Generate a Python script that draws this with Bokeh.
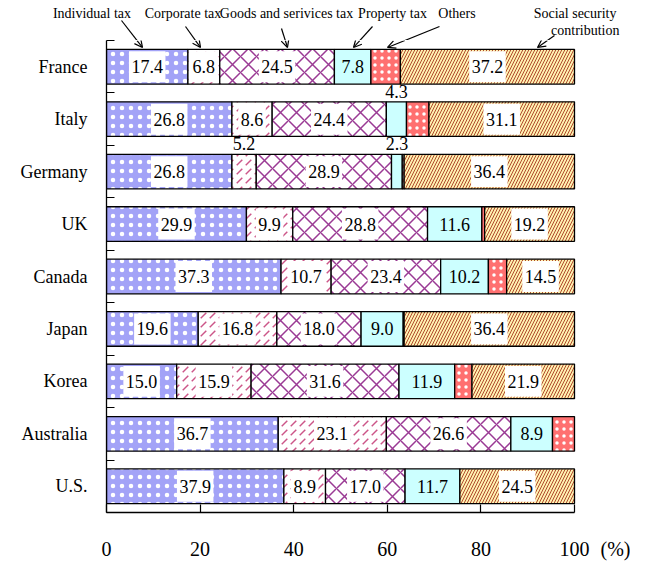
import numpy as np
from bokeh.plotting import figure
from bokeh.layouts import column
from bokeh.models import Range1d, FixedTicker, Arrow, OpenHead, ColumnDataSource, LinearAxis
from bokeh.core.properties import value
from bokeh.embed import file_html
from bokeh.resources import INLINE

# ---------------- data ----------------
countries = ["France", "Italy", "Germany", "UK", "Canada", "Japan", "Korea", "Australia", "U.S."]
individual = [17.4, 26.8, 26.8, 29.9, 37.3, 19.6, 15.0, 36.7, 37.9]
corporate = [6.8, 8.6, 5.2, 9.9, 10.7, 16.8, 15.9, 23.1, 8.9]
goods = [24.5, 24.4, 28.9, 28.8, 23.4, 18.0, 31.6, 26.6, 17.0]
property_tax = [7.8, 4.3, 2.3, 11.6, 10.2, 9.0, 11.9, 8.9, 11.7]
others = [6.3, 4.8, 0.4, 0.6, 3.9, 0.2, 3.7, 4.7, 0.0]
social = [37.2, 31.1, 36.4, 19.2, 14.5, 36.4, 21.9, 0.0, 24.5]
category_names = ["Individual tax", "Corporate tax", "Goods and serivices tax",
                  "Property tax", "Others", "Social security", "contribution"]
x_ticks = [0, 20, 40, 60, 80, 100]
unit_label = "(%)"

FONT = "Liberation Serif"
series = [individual, corporate, goods, property_tax, others, social]
styles = [
    dict(fill_color="#a3a3f7", hatch_pattern="dot", hatch_color="white", hatch_scale=9, hatch_weight=1),
    dict(fill_color="white", hatch_pattern="right_diagonal_dash", hatch_color="#cc5588", hatch_scale=9, hatch_weight=1.5),
    dict(fill_color="white", hatch_pattern="diagonal_cross", hatch_color="#9a3a94", hatch_scale=16, hatch_weight=1.5),
    dict(fill_color="#ccffff"),
    dict(fill_color="#ff7070", hatch_pattern="dot", hatch_color="white", hatch_scale=7, hatch_weight=1),
    dict(fill_color="#fff0b0", hatch_pattern="right_diagonal_line", hatch_color="#b04a2c", hatch_scale=6, hatch_weight=1.0),
]
boxed = [True, True, True, False, False, True]
labeled = [True, True, True, True, False, True]

n = len(countries)
ypos = np.array([n - 1 - i for i in range(n)], dtype=float)
vals = np.array(series, dtype=float)
right = np.cumsum(vals, axis=0)
left = right - vals
BAR_H = 0.66

# ---- geometry (page pixels) ----
OX, OY = 1, 2                   # observed page position of the layout origin
PX0, PXS = 107.0, 4.68          # x=0 at page px 107, 4.68 px per %
PY_FR, PYS = 68.5, 53.1         # France centre, px per row
BOUND = 42                      # page y of the boundary between strip and chart (= frame top)
TOP_H = BOUND - OY
W = 630


def dx(px):
    return (px - PX0) / PXS


def dy(py):
    return (n - 1) - (py - PY_FR) / PYS


# ---------------- call-out strip ----------------
top = figure(width=W, height=TOP_H, x_range=Range1d(OX, OX + W), y_range=Range1d(BOUND, OY),
             output_backend="svg", toolbar_location=None, x_axis_type=None, y_axis_type=None,
             min_border_left=0, min_border_right=0, min_border_top=0, min_border_bottom=0)
top.frame_align = False
top.xgrid.visible = False
top.ygrid.visible = False
top.outline_line_color = None

lab_x = [92.5, 183.5, 287, 393, 457.5, 617, 620]
lab_y = [15, 15, 15, 15, 15, 15, 32]
lab_align = ["center"] * 5 + ["right", "right"]
top.text(x=lab_x, y=lab_y, text=category_names, text_align=lab_align, text_baseline="middle",
         text_font=value(FONT), text_font_size=value("14px"), text_color="black")

arrows = [((122, 22), (143, 49)), ((186, 28), (201, 49)), ((282, 30), (288, 49)),
          ((373, 28), (354, 49)), ((440, 28), (388, 49)), ((555, 37), (538, 49))]
sx0, sy0, sx1, sy1 = [], [], [], []
mid = []
for (x0, y0), (x1, y1) in arrows:
    xb = x0 + (x1 - x0) * (BOUND - y0) / (y1 - y0)
    sx0.append(x0); sy0.append(y0); sx1.append(xb); sy1.append(BOUND)
    mid.append((xb, x1, y1))
top.segment(x0=sx0, y0=sy0, x1=sx1, y1=sy1, line_color="black", line_width=1.2)

# ---------------- main chart ----------------
FRAME_R = 628
XMAX = dx(FRAME_R)
BL = int(PX0 - OX)
BR = W - BL - int(FRAME_R - PX0)
BB = 44
p = figure(width=W, height=478 + BB, x_range=Range1d(0, XMAX), y_range=Range1d(-0.5, n - 0.5),
           output_backend="svg", toolbar_location=None, x_axis_type=None,
           min_border_left=BL, min_border_right=BR, min_border_top=0, min_border_bottom=BB)
p.frame_align = False
p.xgrid.visible = False
p.ygrid.visible = False
p.outline_line_color = None

for k in range(len(series)):
    m = vals[k] > 0
    src = ColumnDataSource(dict(y=ypos[m], left=left[k][m], right=right[k][m]))
    p.hbar(y="y", left="left", right="right", height=BAR_H, source=src,
           line_color="black", line_width=1.3, **styles[k])

bx, by, bw = [], [], []
tx, ty, tt = [], [], []
for k in range(len(series)):
    if not labeled[k]:
        continue
    for i in range(n):
        v = vals[k][i]
        if v <= 0:
            continue
        cx = (left[k][i] + right[k][i]) / 2
        txt = f"{v:.1f}"
        if v < 6:
            tx.append(cx); ty.append(ypos[i] + 0.53); tt.append(txt)
        else:
            tx.append(cx); ty.append(ypos[i]); tt.append(txt)
            if boxed[k]:
                wpx = 9.0 * (len(txt) - 1) + 4.5 + 5
                bx.append(cx); by.append(ypos[i]); bw.append(min(wpx / PXS, v - 0.5))

p.rect(x=bx, y=by, width=bw, height=BAR_H - 0.07, fill_color="white", line_color=None)
p.text(x=tx, y=ty, text=tt, text_font=value(FONT), text_font_size=value("18px"),
       text_align="center", text_baseline="middle", text_color="black")

for xb, x1, y1 in mid:
    p.add_layout(Arrow(x_start=dx(xb), y_start=dy(BOUND), x_end=dx(x1), y_end=dy(y1),
                       line_width=1.2, end=OpenHead(size=8, line_width=1.2)))

# x axis: line + inward ticks (ticks as minor ticks so that this axis has no labels)
ax_line = LinearAxis(ticker=FixedTicker(ticks=[], minor_ticks=x_ticks), bounds=(0, 100))
ax_line.minor_tick_in = 8
ax_line.minor_tick_out = 0
ax_line.minor_tick_line_color = "black"
ax_line.minor_tick_line_width = 1.2
ax_line.major_tick_line_color = None
ax_line.axis_line_width = 1.3
ax_line.major_label_standoff = 0
p.add_layout(ax_line, "below")

# x axis: tick labels and unit
lab_ticks = x_ticks + [dx(622)]
ax_lab = LinearAxis(ticker=FixedTicker(ticks=lab_ticks))
ax_lab.major_label_overrides = {lab_ticks[-1]: unit_label}
ax_lab.axis_line_color = None
ax_lab.major_tick_line_color = None
ax_lab.minor_tick_line_color = None
ax_lab.major_label_text_font = FONT
ax_lab.major_label_text_font_size = "20px"
ax_lab.major_label_text_color = "black"
ax_lab.major_label_standoff = 19
p.add_layout(ax_lab, "below")

p.yaxis.ticker = FixedTicker(ticks=list(ypos), minor_ticks=[y + 0.5 for y in range(-1, n)])
p.yaxis.major_label_overrides = {float(ypos[i]): countries[i] for i in range(n)}
p.yaxis.major_tick_line_color = None
p.yaxis.minor_tick_in = 8
p.yaxis.minor_tick_out = 0
p.yaxis.minor_tick_line_color = "black"
p.yaxis.minor_tick_line_width = 1.2
p.yaxis.axis_line_width = 1.3
p.yaxis.major_label_text_font = FONT
p.yaxis.major_label_text_font_size = "18px"
p.yaxis.major_label_text_color = "black"
p.yaxis.major_label_standoff = 13

layout = column(top, p, spacing=0)
open("out.html", "w").write(file_html(layout, INLINE))
